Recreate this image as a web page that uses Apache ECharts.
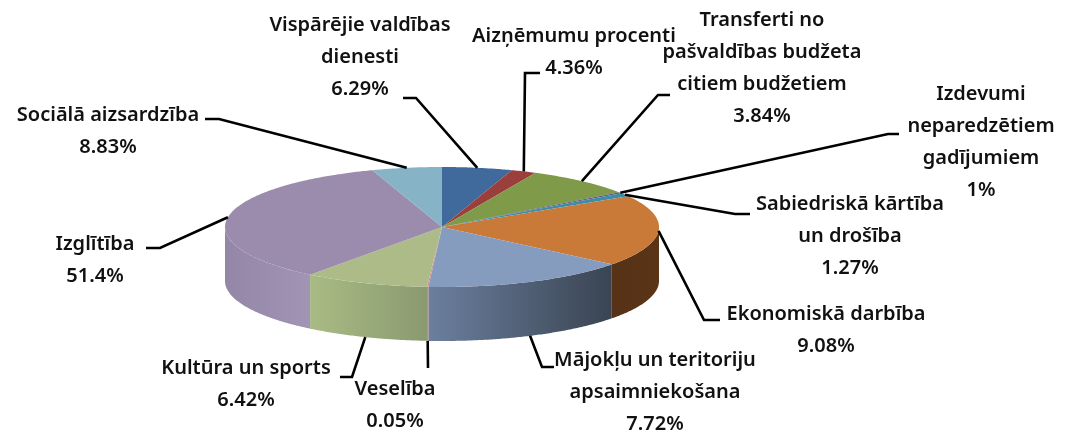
<!DOCTYPE html>
<html>
<head>
<meta charset="utf-8">
<style>
  html, body { margin: 0; padding: 0; background: #fff; }
  #chart { width: 1071px; height: 437px; }
</style>
<script src="https://cdn.jsdelivr.net/npm/echarts@6/dist/echarts.min.js"></script>
</head>
<body>
<div id="chart"></div>
<script>
// label text as printed in the picture
var categories = [
    'Vispārējie valdības\ndienesti', 'Aizņēmumu procenti',
    'Transferti no\npašvaldības budžeta\ncitiem budžetiem', 'Izdevumi\nneparedzētiem\ngadījumiem',
    'Sabiedriskā kārtība\nun drošība', 'Ekonomiskā darbība',
    'Mājokļu un teritoriju\napsaimniekošana', 'Veselība', 'Kultūra un sports', 'Izglītība', 'Sociālā aizsardzība'
]
var percentLabels = ['6.29%', '4.36%', '3.84%', '1%', '1.27%', '9.08%', '7.72%', '0.05%', '6.42%', '51.4%', '8.83%']
// slice sizes as drawn (they differ from the printed percentages), share of the full turn
var sliceShares = [5.2, 1.9, 8.1, 0.3, 0.9, 19.3, 15.3, 0.1, 9.3, 34.4, 5.2]

var topColors = ['#3f6a9b', '#9b3f3d', '#7f9b49', '#6a548c', '#3a8ea8', '#c97a38', '#869cbf', '#cf8f8c', '#acbb88', '#9b8cad', '#87b3c6']
var wallColors = [
    null, null, null, null, null, ['#5b3416', '#563216'],
    ['#3a4452', '#6b7f9e'], ['#c28a88', '#c28a88'], ['#8a9a70', '#a9bb84'], ['#a294b4', '#9486a6'], null
]
// text block centre x / first line y, elbow of the leader line
var labelLayout = [
    {x: 360, y: 9, elbow: [[403, 98], [416, 98]]},
    {x: 574, y: 20, elbow: [[540, 73], [525, 73]]},
    {x: 762, y: 4, elbow: [[670, 95], [658, 95]]},
    {x: 981, y: 78, elbow: [[899, 134], [888, 134]]},
    {x: 850, y: 188, elbow: [[750, 214], [735, 214]]},
    {x: 826, y: 298, elbow: [[720, 320], [704, 320]]},
    {x: 655, y: 344, elbow: [[554, 367], [542, 367]]},
    {x: 395, y: 373, elbow: [[428, 368]]},
    {x: 246, y: 352, elbow: [[340, 377], [352, 377]]},
    {x: 95, y: 228, elbow: [[146, 248], [160, 248]]},
    {x: 108, y: 99, elbow: [[205, 119], [219, 119]]}
]

var cx = 442, cy = 227, rx = 217, ry = 60, depth = 54

// running start/end angle of each slice, clockwise from 12 o'clock
var total = sliceShares.reduce(function (a, b) { return a + b }, 0)
var running = 0
var sliceAngles = sliceShares.map(function (v) {
    var start = running / total * 360
    running += v
    return [start, running / total * 360]
})

function rimPoint(deg, drop) {
    var t = deg * Math.PI / 180
    return [cx + rx * Math.sin(t), cy - ry * Math.cos(t) + (drop || 0)]
}

function arcPoints(from, to, drop) {
    var pts = []
    var n = Math.max(2, Math.ceil(Math.abs(to - from) * 2))
    for (var i = 0; i <= n; i++) {
        pts.push(rimPoint(from + (to - from) * i / n, drop))
    }
    return pts
}

function renderWall(params) {
    var a = sliceAngles[params.dataIndex]
    var stops = wallColors[params.dataIndex]
    var from = Math.max(a[0], 90), to = Math.min(a[1], 270)
    if (!stops || to <= from) return null
    return {
        type: 'polygon',
        shape: {points: arcPoints(from, to, 0).concat(arcPoints(to, from, depth))},
        style: {
            fill: new echarts.graphic.LinearGradient(0, 0, 1, 0, [
                {offset: 0, color: stops[1]},
                {offset: 1, color: stops[0]}
            ]),
            stroke: null
        }
    }
}

function renderTop(params) {
    var a = sliceAngles[params.dataIndex]
    return {
        type: 'polygon',
        shape: {points: [[cx, cy]].concat(arcPoints(a[0], a[1], 0))},
        style: {fill: topColors[params.dataIndex], stroke: null}
    }
}

function renderLabel(params) {
    var i = params.dataIndex
    var mid = (sliceAngles[i][0] + sliceAngles[i][1]) / 2
    var t = mid * Math.PI / 180
    var anchor = rimPoint(mid, Math.cos(t) < -0.3 ? depth : 0)
    var layout = labelLayout[i]
    return {
        type: 'group',
        children: [{
            type: 'polyline',
            shape: {points: layout.elbow.concat([anchor])},
            style: {stroke: '#000', lineWidth: 2.6, fill: null}
        }, {
            type: 'text',
            x: layout.x,
            y: layout.y,
            style: {
                text: categories[i] + '\n' + percentLabels[i],
                font: '600 20px "Noto Sans"',
                lineHeight: 32,
                fill: '#111',
                align: 'center',
                verticalAlign: 'top'
            }
        }]
    }
}

function slicesSeries(render, z) {
    return {
        type: 'custom',
        coordinateSystem: 'none',
        renderItem: render,
        data: sliceShares,
        z: z,
        silent: true,
        clip: false
    }
}

var myChart = echarts.init(document.getElementById('chart'))
myChart.setOption({
    animation: false,
    backgroundColor: '#fff',
    series: [
        slicesSeries(renderWall, 1),
        slicesSeries(renderTop, 2),
        slicesSeries(renderLabel, 3)
    ]
})
</script>
</body>
</html>
